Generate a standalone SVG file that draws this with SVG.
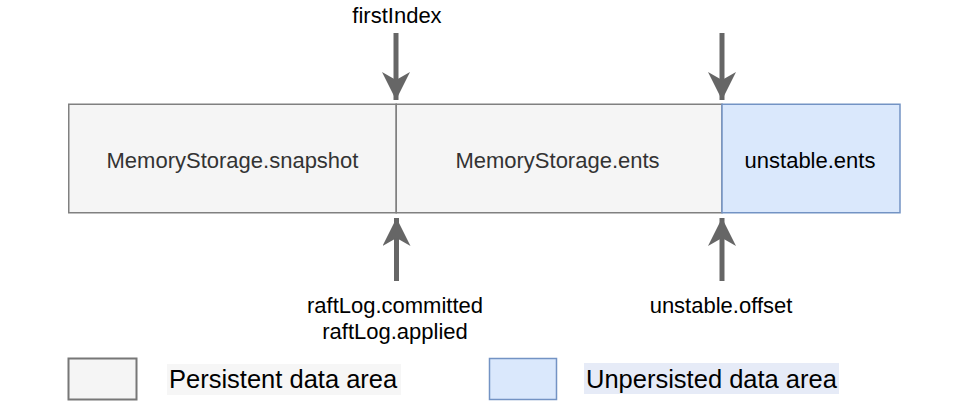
<svg xmlns="http://www.w3.org/2000/svg" width="980" height="406" viewBox="0 0 980 406">
  <style>
    .lbl { font-family: "Liberation Sans", Arial, sans-serif; font-size: 22px; fill: #000; text-anchor: middle; }
    .box-text { font-family: "Liberation Sans", Arial, sans-serif; font-size: 22px; fill: #333; text-anchor: middle; }
    .legend-text { font-family: "Liberation Sans", Arial, sans-serif; font-size: 25.5px; fill: #000; }
    .persist { fill: #f5f5f5; stroke: #808080; stroke-width: 1.5; }
    .unpersist { fill: #dae8fc; stroke: #7393c4; stroke-width: 1.5; }
    .arrow { stroke: #666; stroke-width: 5; fill: none; marker-end: url(#head); }
  </style>
  <defs>
    <marker id="head" viewBox="0 0 28 28" markerWidth="28" markerHeight="28" markerUnits="userSpaceOnUse" refX="28" refY="14" orient="auto">
      <path d="M0,0 L28,14 L0,28 L8,14 z" fill="#666"/>
    </marker>
  </defs>
  <rect width="980" height="406" fill="#fff"/>

  <g id="snapshot">
    <rect class="persist" x="68.75" y="104.25" width="327.5" height="108.5"/>
    <text class="box-text" x="232.5" y="168">MemoryStorage.snapshot</text>
  </g>
  <g id="ents">
    <rect class="persist" x="396.25" y="104.25" width="325.75" height="108.5"/>
    <text class="box-text" x="557.5" y="168">MemoryStorage.ents</text>
  </g>
  <g id="unstable-ents">
    <rect class="unpersist" x="722" y="104.25" width="178" height="108.5"/>
    <text class="lbl" x="810" y="168">unstable.ents</text>
  </g>

  <g id="connectors">
    <line class="arrow" x1="396" y1="33" x2="396" y2="100"/>
    <line class="arrow" x1="722" y1="33" x2="722" y2="100"/>
    <line class="arrow" x1="396.5" y1="281" x2="396.5" y2="218"/>
    <line class="arrow" x1="722" y1="281" x2="722" y2="218"/>
  </g>

  <g id="firstIndex-label">
    <text class="lbl" x="397" y="23">firstIndex</text>
  </g>
  <g id="raftlog-label">
    <text class="lbl" x="395" y="313">raftLog.committed</text>
    <text class="lbl" x="395" y="339">raftLog.applied</text>
  </g>
  <g id="offset-label">
    <text class="lbl" x="721" y="313">unstable.offset</text>
  </g>

  <g id="legend-persistent">
    <rect x="68.5" y="358.5" width="68" height="41" fill="#f5f5f5" stroke="#777" stroke-width="2"/>
    <rect x="167" y="364" width="234" height="31" fill="#f6f6f6"/>
    <text class="legend-text" x="169" y="388">Persistent data area</text>
  </g>
  <g id="legend-unpersisted">
    <rect x="489.5" y="358.5" width="67" height="41" fill="#dae8fc" stroke="#7393c4" stroke-width="1.5"/>
    <rect x="584" y="363" width="255" height="31" fill="#e6ebf7"/>
    <text class="legend-text" x="586" y="388">Unpersisted data area</text>
  </g>
</svg>
